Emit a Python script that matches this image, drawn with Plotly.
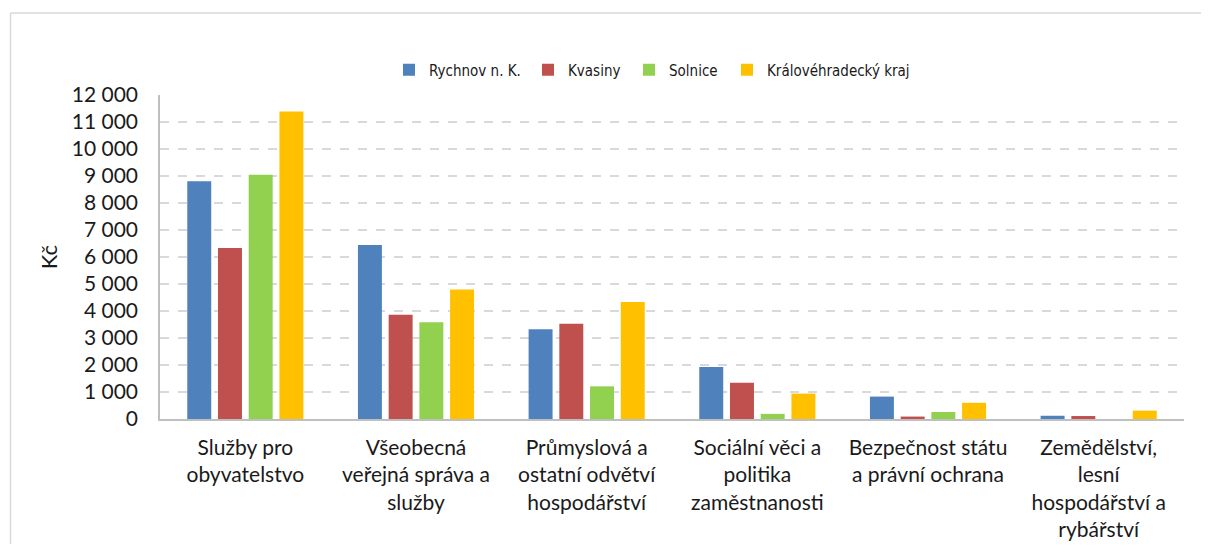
import plotly.graph_objects as go

categories = [
    "Služby pro<br>obyvatelstvo",
    "Všeobecná<br>veřejná správa a<br>služby",
    "Průmyslová a<br>ostatní odvětví<br>hospodářství",
    "Sociální věci a<br>politika<br>zaměstnanosti",
    "Bezpečnost státu<br>a právní ochrana",
    "Zemědělství,<br>lesní<br>hospodářství a<br>rybářství",
]
rychnov = [8810, 6440, 3320, 1930, 830, 120]
kvasiny = [6330, 3860, 3530, 1340, 90, 110]
solnice = [9050, 3580, 1210, 190, 260, 0]
kraj = [11390, 4800, 4330, 940, 600, 310]

series_names = ["Rychnov n. K.", "Kvasiny", "Solnice", "Královéhradecký kraj"]
series_values = [rychnov, kvasiny, solnice, kraj]
colors = ["#4F81BD", "#C0504D", "#92D050", "#FFC000"]
legend_ids = ["legend", "legend2", "legend3", "legend4"]

y_ticks = list(range(0, 12001, 1000))

# The page has the browser's default 8px body margin; the figure is sized so
# that it fits the 1209x552 window without scrolling.
OFF = 8
W, H = 1209 - 2 * OFF, 552 - 2 * OFF
# plot area in screen pixels: x 160..1184, y 95..419
L, T, PW, PH = 160 - OFF, 95 - OFF, 1024, 324


def px_x(x):
    return (x - OFF - L) / PW


def px_y(y):
    return (T + PH - (y - OFF)) / PH


legend_x = [px_x(429 - 40), px_x(568 - 40), px_x(669 - 40), px_x(767 - 40)]

label_font = "Lato, Calibri, Carlito, 'Liberation Sans', sans-serif"
legend_font = "'Liberation Sans Narrow', 'DejaVu Sans Condensed', Lato, sans-serif"

fig = go.Figure()
for name, vals, col, lid in zip(series_names, series_values, colors, legend_ids):
    fig.add_trace(go.Bar(
        x=categories, y=vals, name=name,
        marker=dict(color=col, line=dict(width=0)),
        legend=lid,
    ))

legends = {}
for lid, lx in zip(legend_ids, legend_x):
    legends[lid] = dict(
        orientation="h", yanchor="middle", y=px_y(70), xanchor="left", x=lx,
        font=dict(family=legend_font, size=15, color="#1a1a1a"),
        bgcolor="rgba(0,0,0,0)",
    )

border_x = px_x(10.5)
border_y = px_y(13)

fig.update_layout(
    width=W, height=H,
    paper_bgcolor="white", plot_bgcolor="white",
    margin=dict(l=L, r=W - L - PW, t=T, b=H - T - PH, autoexpand=False),
    barmode="group", bargap=0.28, bargroupgap=0.22,
    separators=", ",
    showlegend=True,
    **legends,
    xaxis=dict(
        showline=True, linecolor="#bfbfbf", linewidth=1.5,
        ticks="", ticklabelstandoff=9,
        tickfont=dict(family=label_font, size=21, color="#1a1a1a"),
        tickangle=0, showgrid=False,
    ),
    yaxis=dict(
        range=[0, 12000], tickvals=y_ticks, tickformat=",",
        showline=True, linecolor="#bfbfbf", linewidth=1.5,
        showgrid=True, gridcolor="#d9d9d9", gridwidth=1.5, griddash="dash",
        zeroline=False, ticks="", ticklabelstandoff=16,
        tickfont=dict(family=label_font, size=21, color="#1a1a1a"),
        title=dict(text="Kč", font=dict(family=label_font, size=22, color="#1a1a1a"), standoff=8),
    ),
    shapes=[
        dict(type="line", xref="paper", yref="paper",
             x0=border_x, x1=1.05, y0=border_y, y1=border_y,
             line=dict(color="#d9d9d9", width=1.5), layer="below"),
        dict(type="line", xref="paper", yref="paper",
             x0=border_x, x1=border_x, y0=border_y, y1=-0.5,
             line=dict(color="#d9d9d9", width=1.5), layer="below"),
    ],
)

fig.write_html("out.html")
